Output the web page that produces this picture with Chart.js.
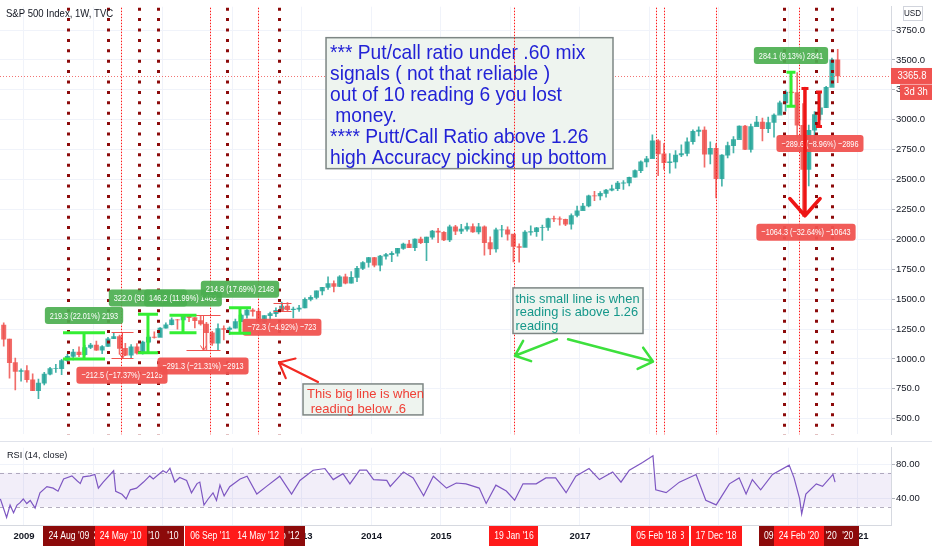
<!DOCTYPE html>
<html>
<head>
<meta charset="utf-8">
<title>S&amp;P 500 Index, 1W, TVC</title>
<script src="https://cdn.jsdelivr.net/npm/chart.js@4.4.1/dist/chart.umd.min.js"></script>
<style>
  html, body { margin: 0; padding: 0; background: #ffffff; }
  body { width: 932px; height: 550px; position: relative; overflow: hidden; }
  canvas { position: absolute; left: 0; display: block; }
  #price-canvas { top: 0; }
  #rsi-canvas { top: 441px; }
</style>
</head>
<body>
<canvas id="price-canvas" width="932" height="441"></canvas>
<canvas id="rsi-canvas" width="932" height="109"></canvas>
<script>
// ---------- data ----------
const X_MIN = 2008.655, X_MAX = 2021.475;      // decimal years shown
const PRICE_MIN = 370, PRICE_MAX = 3945;
const RSI_MIN = 8.65, RSI_MAX = 99.46;

const yearTicks = [2009, 2010, 2011, 2012, 2013, 2014, 2015, 2016, 2017, 2018, 2019, 2020, 2021];
const priceTicks = [500, 750, 1000, 1250, 1500, 1750, 2000, 2250, 2500, 2750, 3000, 3250, 3500, 3750];
const rsiTicks = [40, 80];

// monthly candles, Sep 2008 .. Sep 2020
const firstMonthStart = 2008 + 8 / 12;
const firstOpen = 1283;
const closes = [
  1166, 969, 896, 903,
  826, 735, 798, 873, 919, 919, 987, 1021, 1057, 1036, 1096, 1115,
  1074, 1104, 1169, 1187, 1089, 1031, 1102, 1049, 1141, 1183, 1181, 1258,
  1286, 1327, 1326, 1364, 1345, 1321, 1292, 1219, 1131, 1253, 1247, 1258,
  1312, 1366, 1408, 1398, 1310, 1362, 1379, 1407, 1441, 1412, 1416, 1426,
  1498, 1515, 1569, 1598, 1631, 1606, 1686, 1633, 1682, 1757, 1806, 1848,
  1783, 1859, 1872, 1884, 1924, 1960, 1931, 2003, 1972, 2018, 2068, 2059,
  1995, 2105, 2068, 2086, 2107, 2063, 2104, 1972, 1920, 2079, 2080, 2044,
  1940, 1932, 2060, 2065, 2097, 2099, 2174, 2171, 2168, 2126, 2199, 2239,
  2279, 2364, 2363, 2384, 2412, 2423, 2470, 2472, 2519, 2575, 2648, 2674,
  2824, 2714, 2641, 2648, 2705, 2718, 2816, 2902, 2914, 2712, 2760, 2507,
  2704, 2784, 2834, 2946, 2752, 2942, 2980, 2926, 2977, 3038, 3141, 3231,
  3226, 2954, 2585, 2912, 3044, 3100, 3271, 3500, 3365.8
];
const highs = [
  1303, 1167, 1007, 918,
  944, 876, 832, 888, 930, 956, 997, 1039, 1080, 1101, 1113, 1130,
  1150, 1112, 1181, 1220, 1200, 1131, 1120, 1129, 1149, 1196, 1227, 1262,
  1302, 1344, 1332, 1366, 1371, 1346, 1357, 1307, 1230, 1293, 1277, 1269,
  1333, 1378, 1420, 1422, 1416, 1363, 1392, 1427, 1475, 1471, 1434, 1448,
  1510, 1530, 1570, 1598, 1687, 1654, 1698, 1710, 1730, 1775, 1814, 1849,
  1850, 1867, 1884, 1897, 1925, 1968, 1991, 2005, 2019, 2018, 2075, 2093,
  2065, 2120, 2117, 2126, 2135, 2130, 2133, 2113, 2021, 2094, 2117, 2104,
  2039, 1963, 2073, 2112, 2100, 2120, 2178, 2194, 2188, 2170, 2214, 2278,
  2301, 2371, 2401, 2399, 2419, 2454, 2484, 2491, 2520, 2582, 2657, 2695,
  2873, 2835, 2801, 2718, 2742, 2791, 2848, 2916, 2941, 2940, 2815, 2800,
  2708, 2813, 2860, 2949, 2954, 2964, 3028, 3014, 3022, 3050, 3156, 3248,
  3338, 3394, 3136, 2955, 3068, 3233, 3280, 3515, 3588
];
const lows = [
  1107, 840, 741, 815,
  805, 735, 667, 783, 866, 888, 869, 978, 992, 1020, 1029, 1085,
  1071, 1044, 1105, 1170, 1040, 1028, 1011, 1040, 1040, 1131, 1174, 1186,
  1257, 1285, 1249, 1295, 1312, 1259, 1283, 1075, 1114, 1075, 1159, 1202,
  1258, 1312, 1341, 1358, 1292, 1267, 1325, 1354, 1397, 1403, 1344, 1398,
  1426, 1485, 1501, 1536, 1581, 1560, 1605, 1627, 1633, 1646, 1746, 1767,
  1770, 1737, 1834, 1814, 1860, 1915, 1930, 1905, 1964, 1821, 2001, 1973,
  1988, 1981, 2040, 2048, 2068, 2057, 2045, 1867, 1872, 1893, 2020, 1993,
  1812, 1810, 1937, 2034, 2025, 1992, 2074, 2148, 2119, 2114, 2084, 2187,
  2245, 2271, 2323, 2329, 2352, 2405, 2407, 2417, 2447, 2520, 2557, 2605,
  2683, 2533, 2585, 2553, 2595, 2691, 2698, 2796, 2864, 2603, 2631, 2347,
  2444, 2681, 2723, 2849, 2750, 2729, 2952, 2822, 2892, 2855, 3050, 3071,
  3214, 2855, 2192, 2447, 2767, 2999, 3101, 3280, 3310
];

// RSI (14, close)
const rsiTimes = [
  2008.66, 2008.75, 2008.80, 2008.85, 2008.90, 2008.94, 2008.99, 2009.04, 2009.09, 2009.16,
  2009.23, 2009.33, 2009.42, 2009.49, 2009.57, 2009.69, 2009.76, 2009.81, 2009.85, 2009.95,
  2010.02, 2010.07, 2010.14, 2010.29, 2010.32, 2010.41, 2010.47, 2010.53, 2010.62, 2010.72,
  2010.81, 2010.86, 2011.00, 2011.05, 2011.10, 2011.17, 2011.24, 2011.34, 2011.41, 2011.49,
  2011.53, 2011.59, 2011.65, 2011.72, 2011.77, 2011.82, 2011.88, 2011.96, 2012.11, 2012.21,
  2012.35, 2012.49, 2012.68, 2012.85, 2012.97, 2013.16, 2013.33, 2013.45, 2013.59, 2013.69,
  2013.83, 2013.93, 2014.03, 2014.22, 2014.27, 2014.46, 2014.60, 2014.75, 2014.89, 2015.08,
  2015.22, 2015.36, 2015.55, 2015.65, 2015.79, 2015.94, 2016.06, 2016.18, 2016.37, 2016.51,
  2016.65, 2016.80, 2016.94, 2017.13, 2017.28, 2017.47, 2017.59, 2017.71, 2017.90, 2018.05,
  2018.09, 2018.24, 2018.43, 2018.67, 2018.81, 2018.96, 2019.15, 2019.29, 2019.39, 2019.48,
  2019.60, 2019.77, 2020.01, 2020.08, 2020.16, 2020.19, 2020.25, 2020.40, 2020.49, 2020.64,
  2020.67
];
const rsiValues = [
  39.2, 17.6, 32.1, 23, 32, 34.6, 39.2, 33.9, 37.5, 28.4,
  46.5, 53.7, 51.9, 48.3, 62.7, 66.3, 60.9, 57.3, 65.2, 66.3,
  68.1, 51.9, 59.1, 72.4, 48.3, 44.7, 39.2, 50, 51.9, 59.1,
  66.3, 62.7, 72.4, 70, 75.4, 59.1, 64.5, 60.9, 46.5, 57.3,
  59.1, 32.1, 39.2, 46.5, 37.5, 55.5, 42.9, 53.7, 62.7, 66,
  45, 54, 66, 45, 61, 73, 75, 62, 69, 57,
  73, 73, 62, 61, 54, 71, 64, 43, 66, 52,
  58, 57, 52, 34, 55.5, 48.6, 37.7, 57, 57, 64,
  64, 46.6, 66, 75, 62, 71, 59, 73, 82, 90,
  50, 46.6, 59, 68, 37.7, 32.3, 57, 64, 45, 62,
  50, 68, 79, 64, 39.6, 21.6, 45, 57, 54, 68,
  59
];

// put/call signal lines
const bigLineDates = [2009.645, 2010.22, 2010.655, 2010.93, 2011.935, 2012.67, 2019.94, 2020.41, 2020.64];
const bigLineLabels = ["24 Aug '09", "22 Mar '10", "23 Aug '10", "06 Dec '10", "05 Dec '11", "10 Sep '12", "09 Dec '19", "01 Jun '20", "10 Aug '20"];
const smallLineDates = [2010.39, 2011.68, 2012.37, 2016.05, 2018.10, 2018.21, 2018.96, 2020.15];
const smallLineLabels = ["24 May '10", "06 Sep '11", "14 May '12", "19 Jan '16", "05 Feb '18", "19 Mar '18", "17 Dec '18", "24 Feb '20"];

const lastPrice = 3365.8;

// ---------- drawings placed in chart units ----------
const greenBrackets = [
  { t: 2009.864, top: 1219, bottom: 1000, half: 21 },
  { t: 2010.784, top: 1374, bottom: 1052, half: 10 },
  { t: 2011.288, top: 1365, bottom: 1219, half: 13.5 },
  { t: 2012.108, top: 1429, bottom: 1214, half: 11 },
  { t: 2020.036, top: 3396, bottom: 3112, half: 4.5 }
];
const redBracket = { t: 2020.439, top: 3232, bottom: 2943, half: 3 };
const bigRedArrow = { t: 2020.237, top: 3261, bottom: 2197 };
const thinRanges = [
  { t: 2010.41, top: 1223, bottom: 1011, half: 11 },
  { t: 2011.576, top: 1367, bottom: 1076, half: 17 },
  { t: 2012.712, top: 1470, bottom: 1397, half: 9 }
];
const rangeLabels = [
  { t: 2009.864, v: 1363, text: '219.3 (22.01%) 2193', up: true },
  { t: 2010.784, v: 1509, text: '322.0 (30.62%) 3220', up: true },
  { t: 2011.288, v: 1509, text: '146.2 (11.99%) 1462', up: true },
  { t: 2012.108, v: 1582, text: '214.8 (17.69%) 2148', up: true },
  { t: 2020.036, v: 3536, text: '284.1 (9.13%) 2841', up: true },
  { t: 2010.41, v: 864, text: '\u2212212.5 (\u221217.37%) \u22122125', up: false },
  { t: 2011.576, v: 941, text: '\u2212291.3 (\u221221.31%) \u22122913', up: false },
  { t: 2012.712, v: 1266, text: '\u221272.3 (\u22124.92%) \u2212723', up: false },
  { t: 2020.453, v: 2802, text: '\u2212289.6 (\u22128.96%) \u22122896', up: false },
  { t: 2020.252, v: 2060, text: '\u22121064.3 (\u221232.64%) \u221210643', up: false }
];
const arrows = [
  { t1: 2013.230, v1: 808, t2: 2012.669, v2: 970, color: '#f22a22', width: 2.2 },
  { t1: 2016.669, v1: 1164, t2: 2016.065, v2: 1027, color: '#3de03d', width: 2.5 },
  { t1: 2016.828, v1: 1164, t2: 2018.050, v2: 978, color: '#3de03d', width: 2.5 }
];
const noteBoxes = [
  { t1: 2013.346, v1: 3686, t2: 2017.475, v2: 2591, color: '#2222d6', size: 21, sx: 0.915,
    first: 16, step: 21, pad: 4, lines: [
      '*** Put/call ratio under .60 mix',
      'signals ( not that reliable )',
      'out of 10 reading 6 you lost',
      ' money.',
      '**** Putt/Call Ratio above 1.26',
      'high Accuracy picking up bottom'] },
  { t1: 2016.036, v1: 1594, t2: 2017.907, v2: 1213, color: '#15978a', size: 13.5, sx: 0.95,
    first: 11, step: 13.5, pad: 2.5, lines: [
      'this small line is when',
      'reading is above 1.26',
      'reading'] },
  { t1: 2013.015, v1: 791, t2: 2014.741, v2: 532, color: '#ef4036', size: 13, sx: 1,
    first: 10, step: 15, pad: 4, lines: [
      'This big line is when',
      ' reading below .6'] }
];

// ---------- helpers ----------
const FONT = 'Liberation Sans';
const UP = 'rgba(38,166,154,0.85)', DOWN = 'rgba(239,83,80,0.85)';
const BIG_RED = '#8c0a0a', SMALL_RED = '#ff1a1a';

function drawText(ctx, str, x, y, font, color, align, sx) {
  ctx.save();
  ctx.font = font;
  ctx.fillStyle = color;
  ctx.textBaseline = 'middle';
  ctx.textAlign = align || 'left';
  ctx.translate(x, y);
  ctx.scale(sx || 1, 1);
  ctx.fillText(str, 0, 0);
  ctx.restore();
}
function textWidth(ctx, str, font, sx) {
  ctx.save();
  ctx.font = font;
  const w = ctx.measureText(str).width * (sx || 1);
  ctx.restore();
  return w;
}
function roundRect(ctx, x, y, w, h, r, fill) {
  ctx.beginPath();
  ctx.moveTo(x + r, y);
  ctx.arcTo(x + w, y, x + w, y + h, r);
  ctx.arcTo(x + w, y + h, x, y + h, r);
  ctx.arcTo(x, y + h, x, y, r);
  ctx.arcTo(x, y, x + w, y, r);
  ctx.closePath();
  ctx.fillStyle = fill;
  ctx.fill();
}
function drawArrow(ctx, x1, y1, x2, y2, color, width, headLen, headAng) {
  const a = Math.atan2(y2 - y1, x2 - x1);
  ctx.save();
  ctx.strokeStyle = color;
  ctx.lineWidth = width;
  ctx.lineCap = 'round';
  ctx.lineJoin = 'round';
  ctx.beginPath();
  ctx.moveTo(x1, y1);
  ctx.lineTo(x2, y2);
  ctx.moveTo(x2 - headLen * Math.cos(a - headAng), y2 - headLen * Math.sin(a - headAng));
  ctx.lineTo(x2, y2);
  ctx.lineTo(x2 - headLen * Math.cos(a + headAng), y2 - headLen * Math.sin(a + headAng));
  ctx.stroke();
  ctx.restore();
}
function drawIBar(ctx, x, yTop, yBot, half, color, width) {
  ctx.save();
  ctx.strokeStyle = color;
  ctx.lineWidth = width;
  ctx.beginPath();
  ctx.moveTo(x - half, yTop); ctx.lineTo(x + half, yTop);
  ctx.moveTo(x, yTop); ctx.lineTo(x, yBot);
  ctx.moveTo(x - half, yBot); ctx.lineTo(x + half, yBot);
  ctx.stroke();
  ctx.restore();
}
function drawSignalLine(ctx, area, x, big) {
  ctx.save();
  ctx.beginPath();
  if (big) {
    x = Math.round(x - 1.5) + 1.5;
    ctx.strokeStyle = BIG_RED; ctx.lineWidth = 3; ctx.setLineDash([3, 7.4]);
  } else {
    x = Math.round(x) + 0.5;
    ctx.strokeStyle = SMALL_RED; ctx.lineWidth = 1; ctx.setLineDash([1.5, 1.5]);
  }
  ctx.moveTo(x, area.top + 1);
  ctx.lineTo(x, area.bottom);
  ctx.stroke();
  ctx.restore();
}

// ---------- price panel ----------
const opens = closes.map((c, i) => (i === 0 ? firstOpen : closes[i - 1]));
const candleX = closes.map((c, i) => firstMonthStart + (i + 0.5) / 12);
const candleColors = closes.map((c, i) => (c >= opens[i] ? UP : DOWN));
const wickData = candleX.map((x, i) => ({ x: x, y: [lows[i], highs[i]] }));
const bodyData = candleX.map((x, i) => ({ x: x, y: [opens[i], closes[i]] }));

const priceOverlay = {
  id: 'priceOverlay',
  afterDraw(chart) {
    const ctx = chart.ctx, xs = chart.scales.x, ys = chart.scales.y, area = chart.chartArea;
    const px = t => xs.getPixelForValue(t), py = v => ys.getPixelForValue(v);

    // current price line
    ctx.save();
    ctx.strokeStyle = 'rgba(239,83,80,0.8)';
    ctx.lineWidth = 1;
    ctx.setLineDash([1, 2]);
    ctx.beginPath();
    const yl = Math.round(py(lastPrice)) + 0.5;
    ctx.moveTo(area.left, yl); ctx.lineTo(area.right, yl);
    ctx.stroke();
    ctx.restore();

    // note boxes
    const drawNote = b => {
      const x1 = px(b.t1), y1 = py(b.v1), x2 = px(b.t2), y2 = py(b.v2);
      ctx.save();
      ctx.fillStyle = '#eef4ef';
      ctx.fillRect(x1, y1, x2 - x1, y2 - y1);
      ctx.strokeStyle = '#7d8684';
      ctx.lineWidth = 1.5;
      ctx.strokeRect(x1, y1, x2 - x1, y2 - y1);
      ctx.restore();
      b.lines.forEach((s, i) => {
        drawText(ctx, s, x1 + b.pad, y1 + b.first + i * b.step, b.size + 'px "' + FONT + '"', b.color, 'left', b.sx);
      });
    };
    drawNote(noteBoxes[0]);

    // thin measuring ranges
    ctx.save();
    ctx.strokeStyle = '#ef5350';
    ctx.lineWidth = 1;
    thinRanges.forEach(r => {
      const x = Math.round(px(r.t)) + 0.5, yt = Math.round(py(r.top)) + 0.5, yb = Math.round(py(r.bottom)) + 0.5;
      ctx.beginPath();
      ctx.moveTo(x - r.half, yt); ctx.lineTo(x + r.half, yt);
      ctx.moveTo(x - r.half, yb); ctx.lineTo(x + r.half, yb);
      ctx.moveTo(x, yt); ctx.lineTo(x, yb);
      ctx.moveTo(x - 3, yb - 5); ctx.lineTo(x, yb); ctx.lineTo(x + 3, yb - 5);
      ctx.stroke();
    });
    ctx.restore();

    // signal lines
    bigLineDates.forEach(t => drawSignalLine(ctx, area, px(t), true));
    smallLineDates.forEach(t => drawSignalLine(ctx, area, px(t), false));

    // range labels
    const lf = '9.5px "' + FONT + '"';
    rangeLabels.forEach(l => {
      const w = textWidth(ctx, l.text, lf, 0.77) + 10;
      const x = px(l.t), y = py(l.v);
      roundRect(ctx, x - w / 2, y - 8.5, w, 17, 3, l.up ? 'rgba(76,175,80,0.92)' : 'rgba(240,83,80,0.95)');
      drawText(ctx, l.text, x, y + 0.5, lf, '#ffffff', 'center', 0.77);
    });

    // brackets
    greenBrackets.forEach(b => drawIBar(ctx, px(b.t), py(b.top), py(b.bottom), b.half, '#33ee33', 3));
    drawIBar(ctx, px(redBracket.t), py(redBracket.top), py(redBracket.bottom), redBracket.half, '#ee1515', 3);
    const ax = px(bigRedArrow.t), at = py(bigRedArrow.top), ab = py(bigRedArrow.bottom);
    drawIBar(ctx, ax, at, at, 3.5, '#ee1515', 3);
    drawArrow(ctx, ax, at, ax, ab, '#ee1515', 3.5, 23, 0.72);

    // arrows
    arrows.forEach(a => drawArrow(ctx, px(a.t1), py(a.v1), px(a.t2), py(a.v2), a.color, a.width, 17, 0.7));

    drawNote(noteBoxes[1]);
    drawNote(noteBoxes[2]);

    // header
    drawText(ctx, 'S&P 500 Index, 1W, TVC', 6, 14, '11.5px "' + FONT + '"', '#131722', 'left', 0.83);

    // currency box
    ctx.save();
    ctx.fillStyle = '#ffffff';
    ctx.fillRect(903, 6.5, 19, 14);
    ctx.strokeStyle = '#d1d4dc';
    ctx.lineWidth = 1;
    ctx.strokeRect(903.5, 6.5, 19, 14);
    ctx.restore();
    drawText(ctx, 'USD', 912.5, 13.5, '9px "' + FONT + '"', '#131722', 'center', 0.9);

    // price tags
    const ty = py(lastPrice);
    ctx.fillStyle = '#f05350';
    ctx.fillRect(891, ty - 8, 41, 16);
    drawText(ctx, lastPrice.toFixed(1), 912, ty + 0.5, '10px "' + FONT + '"', '#ffffff', 'center', 0.95);
    ctx.fillStyle = '#f05350';
    ctx.fillRect(900, ty + 8.5, 32, 15.5);
    drawText(ctx, '3d 3h', 916, ty + 16.5, '10px "' + FONT + '"', '#ffffff', 'center', 0.95);
  }
};

Chart.defaults.font.family = FONT;

new Chart(document.getElementById('price-canvas'), {
  type: 'bar',
  data: {
    datasets: [
      { label: 'wick', data: wickData, backgroundColor: candleColors, grouped: false,
        categoryPercentage: 1, barPercentage: 1, maxBarThickness: 1, order: 2 },
      { label: 'body', data: bodyData, backgroundColor: candleColors, grouped: false,
        categoryPercentage: 1, barPercentage: 1, maxBarThickness: 4.4, order: 1 }
    ]
  },
  options: {
    responsive: false,
    animation: false,
    devicePixelRatio: 1,
    layout: { padding: 0 },
    plugins: { legend: { display: false }, tooltip: { enabled: false } },
    scales: {
      x: {
        type: 'linear', min: X_MIN, max: X_MAX, offset: false,
        afterBuildTicks: s => { s.ticks = yearTicks.map(v => ({ value: v })); },
        afterFit: s => { s.height = 0; },
        ticks: { display: false },
        grid: { color: '#f0f3fa', drawTicks: false, offset: false },
        border: { display: false }
      },
      y: {
        position: 'right', min: PRICE_MIN, max: PRICE_MAX,
        afterBuildTicks: s => { s.ticks = priceTicks.map(v => ({ value: v })); },
        afterFit: s => { s.width = 41; },
        ticks: { padding: 1, color: '#131722', font: { size: 9.5 }, callback: v => Number(v).toFixed(1) },
        grid: { color: '#f0f3fa', tickLength: 4, tickColor: '#b2b5be' },
        border: { color: '#d6d9e0' }
      }
    }
  },
  plugins: [priceOverlay]
});

// ---------- RSI panel ----------
const rsiOverlay = {
  id: 'rsiOverlay',
  beforeDatasetsDraw(chart) {
    const ctx = chart.ctx, ys = chart.scales.y, area = chart.chartArea;
    const y70 = ys.getPixelForValue(70), y30 = ys.getPixelForValue(30);
    ctx.save();
    ctx.fillStyle = 'rgba(126,87,194,0.1)';
    ctx.fillRect(area.left, y70, area.right - area.left, y30 - y70);
    ctx.strokeStyle = 'rgba(120,110,140,0.55)';
    ctx.lineWidth = 1;
    ctx.setLineDash([4, 4]);
    ctx.beginPath();
    ctx.moveTo(area.left, Math.round(y70) + 0.5); ctx.lineTo(area.right, Math.round(y70) + 0.5);
    ctx.moveTo(area.left, Math.round(y30) + 0.5); ctx.lineTo(area.right, Math.round(y30) + 0.5);
    ctx.stroke();
    ctx.restore();
  },
  afterDraw(chart) {
    const ctx = chart.ctx, xs = chart.scales.x, area = chart.chartArea;
    // panel separator
    ctx.save();
    ctx.strokeStyle = '#e0e3eb';
    ctx.lineWidth = 1;
    ctx.beginPath();
    ctx.moveTo(0, 0.5); ctx.lineTo(932, 0.5);
    ctx.stroke();
    ctx.restore();

    drawText(ctx, 'RSI (14, close)', 7, 14, '9.5px "' + FONT + '"', '#131722', 'left', 0.96);

    // date tags of the signal lines
    const df = '10px "' + FONT + '"';
    const tag = (t, text, color) => {
      const x = xs.getPixelForValue(t);
      const w = textWidth(ctx, text, df, 0.86) + 10;
      ctx.fillStyle = color;
      ctx.fillRect(Math.round(x - w / 2), area.bottom + 1, Math.round(w), 20);
      drawText(ctx, text, x, area.bottom + 11.5, df, '#ffffff', 'center', 0.86);
    };
    for (let i = bigLineDates.length - 1; i >= 0; i--) tag(bigLineDates[i], bigLineLabels[i], BIG_RED);
    for (let i = smallLineDates.length - 1; i >= 0; i--) tag(smallLineDates[i], smallLineLabels[i], SMALL_RED);
  }
};

new Chart(document.getElementById('rsi-canvas'), {
  type: 'line',
  data: {
    datasets: [{
      label: 'RSI',
      data: rsiTimes.map((t, i) => ({ x: t, y: rsiValues[i] })),
      borderColor: '#7e57c2',
      borderWidth: 1.2,
      pointRadius: 0,
      tension: 0
    }]
  },
  options: {
    responsive: false,
    animation: false,
    devicePixelRatio: 1,
    layout: { padding: 0 },
    plugins: { legend: { display: false }, tooltip: { enabled: false } },
    scales: {
      x: {
        type: 'linear', min: X_MIN, max: X_MAX,
        afterBuildTicks: s => { s.ticks = yearTicks.map(v => ({ value: v })); },
        afterFit: s => { s.height = 25; },
        ticks: { autoSkip: false, maxRotation: 0, padding: 6, color: '#131722', font: { size: 9.5, weight: 'bold' }, callback: v => String(v) },
        grid: { color: '#f0f3fa', drawTicks: false },
        border: { color: '#d6d9e0' }
      },
      y: {
        position: 'right', min: RSI_MIN, max: RSI_MAX,
        afterBuildTicks: s => { s.ticks = rsiTicks.map(v => ({ value: v })); },
        afterFit: s => { s.width = 41; },
        ticks: { padding: 1, color: '#131722', font: { size: 9.5 }, callback: v => Number(v).toFixed(2) },
        grid: { color: '#f0f3fa', tickLength: 4, tickColor: '#b2b5be' },
        border: { color: '#d6d9e0' }
      }
    }
  },
  plugins: [rsiOverlay]
});
</script>
</body>
</html>
